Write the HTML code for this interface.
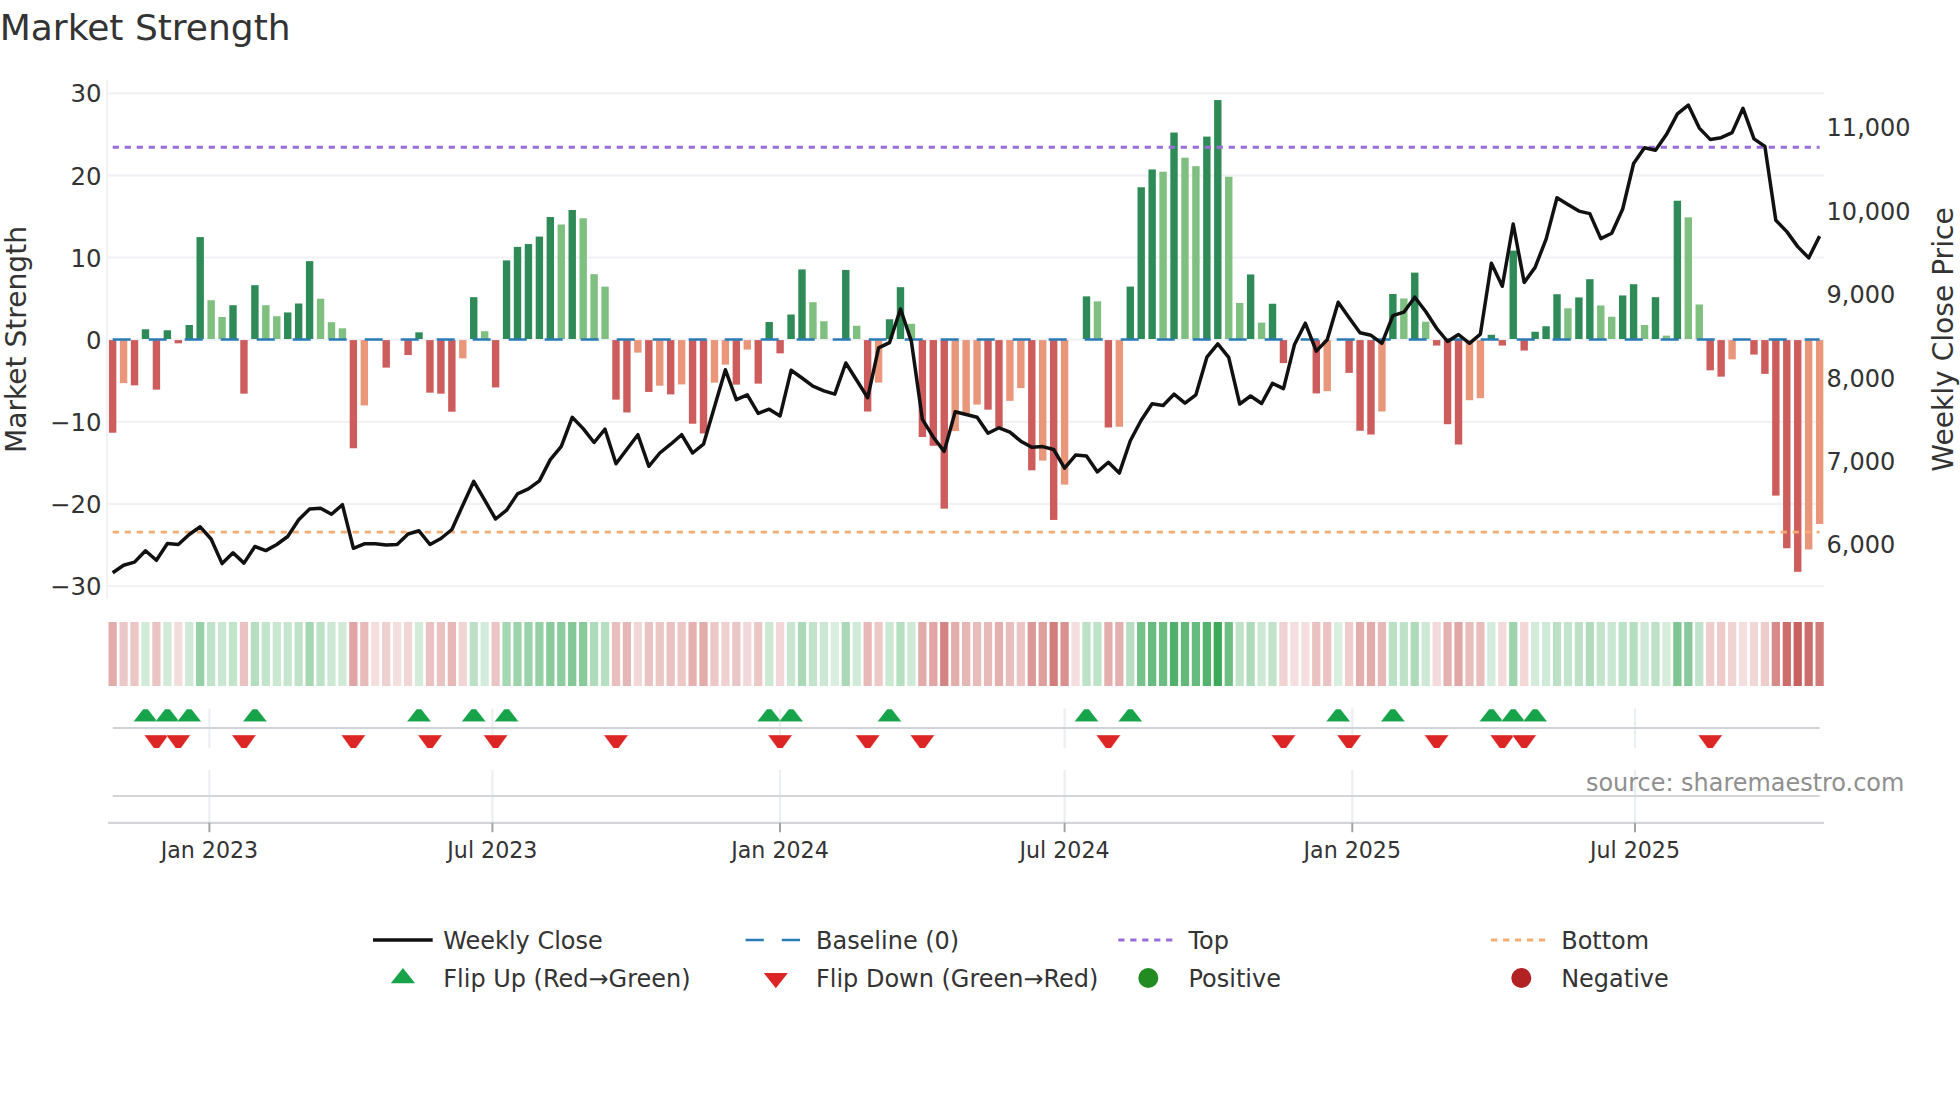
<!DOCTYPE html>
<html lang="en">
<head>
<meta charset="utf-8">
<title>Market Strength</title>
<style>
html,body{margin:0;padding:0;background:#ffffff;}
body{width:1960px;height:1102px;overflow:hidden;}
svg{display:block;font-family:'DejaVu Sans','Liberation Sans',sans-serif;}
</style>
</head>
<body>
<svg width="1960" height="1102" viewBox="0 0 1960 1102">
<rect width="1960" height="1102" fill="#ffffff"/>
<g stroke="#f1f2f5" stroke-width="2.2">
<line x1="108.0" x2="1824.0" y1="93.3" y2="93.3"/>
<line x1="108.0" x2="1824.0" y1="175.4" y2="175.4"/>
<line x1="108.0" x2="1824.0" y1="257.5" y2="257.5"/>
<line x1="108.0" x2="1824.0" y1="339.6" y2="339.6"/>
<line x1="108.0" x2="1824.0" y1="421.8" y2="421.8"/>
<line x1="108.0" x2="1824.0" y1="503.9" y2="503.9"/>
<line x1="108.0" x2="1824.0" y1="586.0" y2="586.0"/>
</g>
<line x1="107" x2="107" y1="80.0" y2="599.0" stroke="#f2f2f5" stroke-width="2"/>
<clipPath id="cp"><rect x="108.0" y="80.0" width="1716.0" height="519.0"/></clipPath>
<g clip-path="url(#cp)">
<rect x="108.95" y="340.10" width="7.4" height="92.63" fill="#cd5c5c"/>
<rect x="119.89" y="340.10" width="7.4" height="43.04" fill="#e9967a"/>
<rect x="130.83" y="340.10" width="7.4" height="45.26" fill="#cd5c5c"/>
<rect x="141.78" y="329.28" width="7.4" height="9.72" fill="#2e8b57"/>
<rect x="152.72" y="340.10" width="7.4" height="49.53" fill="#cd5c5c"/>
<rect x="163.66" y="330.27" width="7.4" height="8.73" fill="#2e8b57"/>
<rect x="174.60" y="340.10" width="7.4" height="3.22" fill="#cd5c5c"/>
<rect x="185.54" y="325.01" width="7.4" height="13.99" fill="#2e8b57"/>
<rect x="196.49" y="237.09" width="7.4" height="101.91" fill="#2e8b57"/>
<rect x="207.43" y="300.22" width="7.4" height="38.78" fill="#7fbf7f"/>
<rect x="218.37" y="316.97" width="7.4" height="22.03" fill="#7fbf7f"/>
<rect x="229.31" y="305.23" width="7.4" height="33.77" fill="#2e8b57"/>
<rect x="240.26" y="340.10" width="7.4" height="53.55" fill="#cd5c5c"/>
<rect x="251.20" y="285.20" width="7.4" height="53.80" fill="#2e8b57"/>
<rect x="262.14" y="305.23" width="7.4" height="33.77" fill="#7fbf7f"/>
<rect x="273.08" y="316.23" width="7.4" height="22.77" fill="#7fbf7f"/>
<rect x="284.02" y="312.45" width="7.4" height="26.55" fill="#2e8b57"/>
<rect x="294.97" y="303.50" width="7.4" height="35.50" fill="#2e8b57"/>
<rect x="305.91" y="261.14" width="7.4" height="77.86" fill="#2e8b57"/>
<rect x="316.85" y="298.74" width="7.4" height="40.26" fill="#7fbf7f"/>
<rect x="327.79" y="322.22" width="7.4" height="16.78" fill="#7fbf7f"/>
<rect x="338.73" y="328.30" width="7.4" height="10.70" fill="#7fbf7f"/>
<rect x="349.68" y="340.10" width="7.4" height="108.15" fill="#cd5c5c"/>
<rect x="360.62" y="340.10" width="7.4" height="65.37" fill="#e9967a"/>
<rect x="382.50" y="340.10" width="7.4" height="27.52" fill="#cd5c5c"/>
<rect x="404.39" y="340.10" width="7.4" height="14.96" fill="#cd5c5c"/>
<rect x="415.33" y="332.32" width="7.4" height="6.68" fill="#2e8b57"/>
<rect x="426.27" y="340.10" width="7.4" height="52.56" fill="#cd5c5c"/>
<rect x="437.21" y="340.10" width="7.4" height="53.55" fill="#cd5c5c"/>
<rect x="448.16" y="340.10" width="7.4" height="71.61" fill="#cd5c5c"/>
<rect x="459.10" y="340.10" width="7.4" height="18.25" fill="#e9967a"/>
<rect x="470.04" y="297.18" width="7.4" height="41.82" fill="#2e8b57"/>
<rect x="480.98" y="331.25" width="7.4" height="7.75" fill="#7fbf7f"/>
<rect x="491.92" y="340.10" width="7.4" height="47.31" fill="#cd5c5c"/>
<rect x="502.87" y="260.40" width="7.4" height="78.60" fill="#2e8b57"/>
<rect x="513.81" y="246.86" width="7.4" height="92.14" fill="#2e8b57"/>
<rect x="524.75" y="244.06" width="7.4" height="94.94" fill="#2e8b57"/>
<rect x="535.69" y="236.59" width="7.4" height="102.41" fill="#2e8b57"/>
<rect x="546.63" y="217.05" width="7.4" height="121.95" fill="#2e8b57"/>
<rect x="557.58" y="224.52" width="7.4" height="114.48" fill="#7fbf7f"/>
<rect x="568.52" y="209.99" width="7.4" height="129.01" fill="#2e8b57"/>
<rect x="579.46" y="218.28" width="7.4" height="120.72" fill="#7fbf7f"/>
<rect x="590.40" y="274.19" width="7.4" height="64.81" fill="#7fbf7f"/>
<rect x="601.34" y="286.67" width="7.4" height="52.33" fill="#7fbf7f"/>
<rect x="612.29" y="340.10" width="7.4" height="59.54" fill="#cd5c5c"/>
<rect x="623.23" y="340.10" width="7.4" height="72.35" fill="#cd5c5c"/>
<rect x="634.17" y="340.10" width="7.4" height="12.50" fill="#e9967a"/>
<rect x="645.11" y="340.10" width="7.4" height="51.83" fill="#cd5c5c"/>
<rect x="656.05" y="340.10" width="7.4" height="45.59" fill="#e9967a"/>
<rect x="667.00" y="340.10" width="7.4" height="54.29" fill="#cd5c5c"/>
<rect x="677.94" y="340.10" width="7.4" height="44.27" fill="#e9967a"/>
<rect x="688.88" y="340.10" width="7.4" height="83.60" fill="#cd5c5c"/>
<rect x="699.82" y="340.10" width="7.4" height="93.37" fill="#cd5c5c"/>
<rect x="710.77" y="340.10" width="7.4" height="42.55" fill="#e9967a"/>
<rect x="721.71" y="340.10" width="7.4" height="24.49" fill="#e9967a"/>
<rect x="732.65" y="340.10" width="7.4" height="44.52" fill="#cd5c5c"/>
<rect x="743.59" y="340.10" width="7.4" height="9.46" fill="#e9967a"/>
<rect x="754.53" y="340.10" width="7.4" height="43.53" fill="#cd5c5c"/>
<rect x="765.48" y="321.98" width="7.4" height="17.02" fill="#2e8b57"/>
<rect x="776.42" y="340.10" width="7.4" height="13.24" fill="#cd5c5c"/>
<rect x="787.36" y="314.51" width="7.4" height="24.49" fill="#2e8b57"/>
<rect x="798.30" y="269.43" width="7.4" height="69.57" fill="#2e8b57"/>
<rect x="809.24" y="302.19" width="7.4" height="36.81" fill="#7fbf7f"/>
<rect x="820.19" y="321.24" width="7.4" height="17.76" fill="#7fbf7f"/>
<rect x="842.07" y="269.93" width="7.4" height="69.07" fill="#2e8b57"/>
<rect x="853.01" y="325.75" width="7.4" height="13.25" fill="#7fbf7f"/>
<rect x="863.95" y="340.10" width="7.4" height="71.45" fill="#cd5c5c"/>
<rect x="874.90" y="340.10" width="7.4" height="42.47" fill="#e9967a"/>
<rect x="885.84" y="319.27" width="7.4" height="19.73" fill="#2e8b57"/>
<rect x="896.78" y="287.17" width="7.4" height="51.83" fill="#2e8b57"/>
<rect x="907.72" y="323.78" width="7.4" height="15.22" fill="#7fbf7f"/>
<rect x="918.67" y="340.10" width="7.4" height="96.90" fill="#cd5c5c"/>
<rect x="929.61" y="340.10" width="7.4" height="105.68" fill="#cd5c5c"/>
<rect x="940.55" y="340.10" width="7.4" height="168.57" fill="#cd5c5c"/>
<rect x="951.49" y="340.10" width="7.4" height="90.99" fill="#e9967a"/>
<rect x="962.43" y="340.10" width="7.4" height="74.73" fill="#e9967a"/>
<rect x="973.38" y="340.10" width="7.4" height="64.47" fill="#e9967a"/>
<rect x="984.32" y="340.10" width="7.4" height="69.56" fill="#cd5c5c"/>
<rect x="995.26" y="340.10" width="7.4" height="87.05" fill="#cd5c5c"/>
<rect x="1006.20" y="340.10" width="7.4" height="60.77" fill="#e9967a"/>
<rect x="1017.14" y="340.10" width="7.4" height="48.05" fill="#e9967a"/>
<rect x="1028.09" y="340.10" width="7.4" height="130.23" fill="#cd5c5c"/>
<rect x="1039.03" y="340.10" width="7.4" height="120.46" fill="#e9967a"/>
<rect x="1049.97" y="340.10" width="7.4" height="179.82" fill="#cd5c5c"/>
<rect x="1060.91" y="340.10" width="7.4" height="144.52" fill="#e9967a"/>
<rect x="1082.80" y="296.36" width="7.4" height="42.64" fill="#2e8b57"/>
<rect x="1093.74" y="301.37" width="7.4" height="37.63" fill="#7fbf7f"/>
<rect x="1104.68" y="340.10" width="7.4" height="87.38" fill="#cd5c5c"/>
<rect x="1115.62" y="340.10" width="7.4" height="86.64" fill="#e9967a"/>
<rect x="1126.57" y="286.59" width="7.4" height="52.41" fill="#2e8b57"/>
<rect x="1137.51" y="187.25" width="7.4" height="151.75" fill="#2e8b57"/>
<rect x="1148.45" y="169.44" width="7.4" height="169.56" fill="#2e8b57"/>
<rect x="1159.39" y="171.73" width="7.4" height="167.27" fill="#7fbf7f"/>
<rect x="1170.33" y="132.57" width="7.4" height="206.43" fill="#2e8b57"/>
<rect x="1181.28" y="157.69" width="7.4" height="181.31" fill="#7fbf7f"/>
<rect x="1192.22" y="166.15" width="7.4" height="172.85" fill="#7fbf7f"/>
<rect x="1203.16" y="136.60" width="7.4" height="202.40" fill="#2e8b57"/>
<rect x="1214.10" y="100.06" width="7.4" height="238.94" fill="#2e8b57"/>
<rect x="1225.04" y="176.74" width="7.4" height="162.26" fill="#7fbf7f"/>
<rect x="1235.99" y="303.01" width="7.4" height="35.99" fill="#7fbf7f"/>
<rect x="1246.93" y="274.44" width="7.4" height="64.56" fill="#2e8b57"/>
<rect x="1257.87" y="322.63" width="7.4" height="16.37" fill="#7fbf7f"/>
<rect x="1268.81" y="303.75" width="7.4" height="35.25" fill="#2e8b57"/>
<rect x="1279.75" y="340.10" width="7.4" height="23.01" fill="#cd5c5c"/>
<rect x="1312.58" y="340.10" width="7.4" height="53.30" fill="#cd5c5c"/>
<rect x="1323.52" y="340.10" width="7.4" height="51.09" fill="#e9967a"/>
<rect x="1345.41" y="340.10" width="7.4" height="32.78" fill="#cd5c5c"/>
<rect x="1356.35" y="340.10" width="7.4" height="90.66" fill="#cd5c5c"/>
<rect x="1367.29" y="340.10" width="7.4" height="94.44" fill="#cd5c5c"/>
<rect x="1378.23" y="340.10" width="7.4" height="71.37" fill="#e9967a"/>
<rect x="1389.18" y="293.98" width="7.4" height="45.02" fill="#2e8b57"/>
<rect x="1400.12" y="298.50" width="7.4" height="40.50" fill="#7fbf7f"/>
<rect x="1411.06" y="272.63" width="7.4" height="66.37" fill="#2e8b57"/>
<rect x="1422.00" y="321.73" width="7.4" height="17.27" fill="#7fbf7f"/>
<rect x="1432.94" y="340.10" width="7.4" height="5.44" fill="#cd5c5c"/>
<rect x="1443.89" y="340.10" width="7.4" height="84.09" fill="#cd5c5c"/>
<rect x="1454.83" y="340.10" width="7.4" height="104.45" fill="#cd5c5c"/>
<rect x="1465.77" y="340.10" width="7.4" height="60.12" fill="#e9967a"/>
<rect x="1476.71" y="340.10" width="7.4" height="58.07" fill="#e9967a"/>
<rect x="1487.65" y="334.78" width="7.4" height="4.22" fill="#2e8b57"/>
<rect x="1498.60" y="340.10" width="7.4" height="5.44" fill="#cd5c5c"/>
<rect x="1509.54" y="250.63" width="7.4" height="88.37" fill="#2e8b57"/>
<rect x="1520.48" y="340.10" width="7.4" height="10.45" fill="#cd5c5c"/>
<rect x="1531.42" y="331.75" width="7.4" height="7.25" fill="#2e8b57"/>
<rect x="1542.37" y="326.25" width="7.4" height="12.75" fill="#2e8b57"/>
<rect x="1553.31" y="294.23" width="7.4" height="44.77" fill="#2e8b57"/>
<rect x="1564.25" y="308.27" width="7.4" height="30.73" fill="#7fbf7f"/>
<rect x="1575.19" y="297.43" width="7.4" height="41.57" fill="#2e8b57"/>
<rect x="1586.13" y="279.20" width="7.4" height="59.80" fill="#2e8b57"/>
<rect x="1597.08" y="305.47" width="7.4" height="33.53" fill="#7fbf7f"/>
<rect x="1608.02" y="316.72" width="7.4" height="22.28" fill="#7fbf7f"/>
<rect x="1618.96" y="295.46" width="7.4" height="43.54" fill="#2e8b57"/>
<rect x="1629.90" y="284.21" width="7.4" height="54.79" fill="#2e8b57"/>
<rect x="1640.84" y="325.01" width="7.4" height="13.99" fill="#7fbf7f"/>
<rect x="1651.79" y="297.18" width="7.4" height="41.82" fill="#2e8b57"/>
<rect x="1662.73" y="335.61" width="7.4" height="3.39" fill="#7fbf7f"/>
<rect x="1673.67" y="200.72" width="7.4" height="138.28" fill="#2e8b57"/>
<rect x="1684.61" y="217.30" width="7.4" height="121.70" fill="#7fbf7f"/>
<rect x="1695.55" y="304.49" width="7.4" height="34.51" fill="#7fbf7f"/>
<rect x="1706.50" y="340.10" width="7.4" height="30.23" fill="#cd5c5c"/>
<rect x="1717.44" y="340.10" width="7.4" height="36.56" fill="#cd5c5c"/>
<rect x="1728.38" y="340.10" width="7.4" height="19.23" fill="#e9967a"/>
<rect x="1750.27" y="340.10" width="7.4" height="14.47" fill="#cd5c5c"/>
<rect x="1761.21" y="340.10" width="7.4" height="33.76" fill="#cd5c5c"/>
<rect x="1772.15" y="340.10" width="7.4" height="155.52" fill="#cd5c5c"/>
<rect x="1783.09" y="340.10" width="7.4" height="208.14" fill="#cd5c5c"/>
<rect x="1794.03" y="340.10" width="7.4" height="231.71" fill="#cd5c5c"/>
<rect x="1804.98" y="340.10" width="7.4" height="209.38" fill="#e9967a"/>
<rect x="1815.92" y="340.10" width="7.4" height="183.84" fill="#e9967a"/>
</g>
<line x1="112.7" x2="1819.6" y1="147.2" y2="147.2" stroke="#9a6ddc" stroke-width="2.9" stroke-dasharray="6.2 5.8"/>
<line x1="112.7" x2="1819.6" y1="532.1" y2="532.1" stroke="#f3ac72" stroke-width="2.9" stroke-dasharray="6.2 5.8"/>
<line x1="112.7" x2="1819.6" y1="339.5" y2="339.5" stroke="#2b7bb6" stroke-width="2.6" stroke-dasharray="18 18"/>
<polyline points="112.7,572.8 123.6,565.3 134.5,562.1 145.5,550.8 156.4,560.3 167.4,543.5 178.3,544.5 189.2,534.5 200.2,526.8 211.1,539.0 222.1,563.6 233.0,552.8 244.0,563.1 254.9,546.5 265.8,550.6 276.8,544.5 287.7,536.5 298.7,519.7 309.6,509.0 320.5,508.2 331.5,514.2 342.4,504.7 353.4,548.3 364.3,543.8 375.3,543.8 386.2,545.0 397.1,544.5 408.1,534.0 419.0,530.8 430.0,544.5 440.9,538.5 451.9,529.5 462.8,505.2 473.7,481.4 484.7,500.2 495.6,519.0 506.6,510.2 517.5,493.9 528.4,488.9 539.4,480.9 550.3,459.6 561.3,446.3 572.2,417.3 583.2,428.6 594.1,442.5 605.0,429.2 616.0,463.8 626.9,449.2 637.9,434.7 648.8,466.3 659.8,453.0 670.7,444.2 681.6,434.7 692.6,453.0 703.5,444.2 714.5,406.7 725.4,369.8 736.3,399.6 747.3,394.9 758.2,413.4 769.2,409.2 780.1,415.9 791.1,370.3 802.0,378.0 812.9,386.2 823.9,390.9 834.8,394.1 845.8,363.0 856.7,380.2 867.7,397.7 878.6,347.9 889.5,342.6 900.5,309.0 911.4,341.4 922.4,419.4 933.3,437.2 944.2,451.4 955.2,411.8 966.1,414.5 977.1,417.3 988.0,433.3 999.0,427.8 1009.9,432.2 1020.8,441.2 1031.8,447.3 1042.7,446.6 1053.7,449.5 1064.6,468.2 1075.6,455.1 1086.5,456.0 1097.4,471.9 1108.4,462.3 1119.3,473.1 1130.3,440.7 1141.2,420.3 1152.1,403.8 1163.1,405.5 1174.0,394.2 1185.0,403.2 1195.9,394.8 1206.9,357.2 1217.8,343.9 1228.7,357.4 1239.7,404.0 1250.6,396.0 1261.6,403.5 1272.5,383.3 1283.5,388.6 1294.4,344.8 1305.3,323.2 1316.3,351.1 1327.2,339.8 1338.2,302.2 1349.1,317.7 1360.0,332.8 1371.0,335.3 1381.9,343.3 1392.9,315.7 1403.8,312.2 1414.8,297.2 1425.7,311.5 1436.6,328.3 1447.6,341.5 1458.5,334.5 1469.5,343.3 1480.4,334.1 1491.4,263.2 1502.3,286.3 1513.2,224.0 1524.2,282.4 1535.1,267.4 1546.1,239.1 1557.0,197.8 1567.9,204.5 1578.9,211.1 1589.8,213.6 1600.8,238.6 1611.7,233.3 1622.7,209.0 1633.6,163.5 1644.5,147.7 1655.5,150.2 1666.4,134.6 1677.4,113.9 1688.3,105.1 1699.3,128.1 1710.2,139.4 1721.1,137.7 1732.1,132.6 1743.0,108.3 1754.0,138.9 1764.9,146.4 1775.8,220.3 1786.8,231.6 1797.7,246.6 1808.7,257.9 1819.6,236.1" fill="none" stroke="#111111" stroke-width="3.5" stroke-linejoin="round" stroke-linecap="butt"/>
<clipPath id="cs"><rect x="108.0" y="622" width="1716.0" height="64"/></clipPath>
<g clip-path="url(#cs)">
<rect x="108.53" y="622" width="8.25" height="64" fill="#e2acab"/>
<rect x="119.47" y="622" width="8.25" height="64" fill="#ecc7c7"/>
<rect x="130.41" y="622" width="8.25" height="64" fill="#ebc6c5"/>
<rect x="141.35" y="622" width="8.25" height="64" fill="#d1ebd8"/>
<rect x="152.29" y="622" width="8.25" height="64" fill="#eac4c3"/>
<rect x="163.24" y="622" width="8.25" height="64" fill="#d2ebd9"/>
<rect x="174.18" y="622" width="8.25" height="64" fill="#f3dddc"/>
<rect x="185.12" y="622" width="8.25" height="64" fill="#cfe9d6"/>
<rect x="196.06" y="622" width="8.25" height="64" fill="#95d0a6"/>
<rect x="207.00" y="622" width="8.25" height="64" fill="#bfe2c8"/>
<rect x="217.95" y="622" width="8.25" height="64" fill="#c9e7d2"/>
<rect x="228.89" y="622" width="8.25" height="64" fill="#c2e4cb"/>
<rect x="239.83" y="622" width="8.25" height="64" fill="#eac2c1"/>
<rect x="250.77" y="622" width="8.25" height="64" fill="#b5dec0"/>
<rect x="261.71" y="622" width="8.25" height="64" fill="#c2e4cb"/>
<rect x="272.66" y="622" width="8.25" height="64" fill="#c9e7d1"/>
<rect x="283.60" y="622" width="8.25" height="64" fill="#c6e6cf"/>
<rect x="294.54" y="622" width="8.25" height="64" fill="#c1e3ca"/>
<rect x="305.48" y="622" width="8.25" height="64" fill="#a5d7b3"/>
<rect x="316.42" y="622" width="8.25" height="64" fill="#bee2c8"/>
<rect x="327.37" y="622" width="8.25" height="64" fill="#cde9d5"/>
<rect x="338.31" y="622" width="8.25" height="64" fill="#d1ead8"/>
<rect x="349.25" y="622" width="8.25" height="64" fill="#dfa4a3"/>
<rect x="360.19" y="622" width="8.25" height="64" fill="#e7bbba"/>
<rect x="371.14" y="622" width="8.25" height="64" fill="#f4dfde"/>
<rect x="382.08" y="622" width="8.25" height="64" fill="#eed0cf"/>
<rect x="393.02" y="622" width="8.25" height="64" fill="#f4dfde"/>
<rect x="403.96" y="622" width="8.25" height="64" fill="#f1d6d6"/>
<rect x="414.90" y="622" width="8.25" height="64" fill="#d3ecda"/>
<rect x="425.85" y="622" width="8.25" height="64" fill="#eac2c1"/>
<rect x="436.79" y="622" width="8.25" height="64" fill="#eac2c1"/>
<rect x="447.73" y="622" width="8.25" height="64" fill="#e6b8b7"/>
<rect x="458.67" y="622" width="8.25" height="64" fill="#f0d5d4"/>
<rect x="469.61" y="622" width="8.25" height="64" fill="#bde1c7"/>
<rect x="480.56" y="622" width="8.25" height="64" fill="#d3ebda"/>
<rect x="491.50" y="622" width="8.25" height="64" fill="#ebc5c4"/>
<rect x="502.44" y="622" width="8.25" height="64" fill="#a5d7b2"/>
<rect x="513.38" y="622" width="8.25" height="64" fill="#9cd3ab"/>
<rect x="524.32" y="622" width="8.25" height="64" fill="#9ad2a9"/>
<rect x="535.27" y="622" width="8.25" height="64" fill="#95d0a5"/>
<rect x="546.21" y="622" width="8.25" height="64" fill="#88ca9b"/>
<rect x="557.15" y="622" width="8.25" height="64" fill="#8dcc9f"/>
<rect x="568.09" y="622" width="8.25" height="64" fill="#84c897"/>
<rect x="579.04" y="622" width="8.25" height="64" fill="#89ca9b"/>
<rect x="589.98" y="622" width="8.25" height="64" fill="#aedbba"/>
<rect x="600.92" y="622" width="8.25" height="64" fill="#b6dec1"/>
<rect x="611.86" y="622" width="8.25" height="64" fill="#e9bebe"/>
<rect x="622.80" y="622" width="8.25" height="64" fill="#e6b7b7"/>
<rect x="633.75" y="622" width="8.25" height="64" fill="#f1d8d7"/>
<rect x="644.69" y="622" width="8.25" height="64" fill="#eac2c2"/>
<rect x="655.63" y="622" width="8.25" height="64" fill="#ebc6c5"/>
<rect x="666.57" y="622" width="8.25" height="64" fill="#e9c1c0"/>
<rect x="677.51" y="622" width="8.25" height="64" fill="#ebc7c6"/>
<rect x="688.46" y="622" width="8.25" height="64" fill="#e4b1b0"/>
<rect x="699.40" y="622" width="8.25" height="64" fill="#e2acab"/>
<rect x="710.34" y="622" width="8.25" height="64" fill="#ecc7c7"/>
<rect x="721.28" y="622" width="8.25" height="64" fill="#efd1d1"/>
<rect x="732.22" y="622" width="8.25" height="64" fill="#ebc6c6"/>
<rect x="743.17" y="622" width="8.25" height="64" fill="#f2d9d9"/>
<rect x="754.11" y="622" width="8.25" height="64" fill="#ebc7c6"/>
<rect x="765.05" y="622" width="8.25" height="64" fill="#cde9d4"/>
<rect x="775.99" y="622" width="8.25" height="64" fill="#f1d7d7"/>
<rect x="786.94" y="622" width="8.25" height="64" fill="#c8e6d0"/>
<rect x="797.88" y="622" width="8.25" height="64" fill="#aad9b7"/>
<rect x="808.82" y="622" width="8.25" height="64" fill="#c0e3ca"/>
<rect x="819.76" y="622" width="8.25" height="64" fill="#cce8d4"/>
<rect x="830.70" y="622" width="8.25" height="64" fill="#d8eede"/>
<rect x="841.65" y="622" width="8.25" height="64" fill="#abd9b8"/>
<rect x="852.59" y="622" width="8.25" height="64" fill="#cfead7"/>
<rect x="863.53" y="622" width="8.25" height="64" fill="#e6b8b7"/>
<rect x="874.47" y="622" width="8.25" height="64" fill="#ecc8c7"/>
<rect x="885.41" y="622" width="8.25" height="64" fill="#cbe8d3"/>
<rect x="896.36" y="622" width="8.25" height="64" fill="#b6dec1"/>
<rect x="907.30" y="622" width="8.25" height="64" fill="#cee9d5"/>
<rect x="918.24" y="622" width="8.25" height="64" fill="#e2aaa9"/>
<rect x="929.18" y="622" width="8.25" height="64" fill="#e0a5a4"/>
<rect x="940.12" y="622" width="8.25" height="64" fill="#d48482"/>
<rect x="951.07" y="622" width="8.25" height="64" fill="#e3adac"/>
<rect x="962.01" y="622" width="8.25" height="64" fill="#e6b6b5"/>
<rect x="972.95" y="622" width="8.25" height="64" fill="#e8bcbb"/>
<rect x="983.89" y="622" width="8.25" height="64" fill="#e7b9b8"/>
<rect x="994.84" y="622" width="8.25" height="64" fill="#e3b0af"/>
<rect x="1005.78" y="622" width="8.25" height="64" fill="#e8bebd"/>
<rect x="1016.72" y="622" width="8.25" height="64" fill="#ebc5c4"/>
<rect x="1027.66" y="622" width="8.25" height="64" fill="#db9897"/>
<rect x="1038.60" y="622" width="8.25" height="64" fill="#dd9e9c"/>
<rect x="1049.55" y="622" width="8.25" height="64" fill="#d27e7c"/>
<rect x="1060.49" y="622" width="8.25" height="64" fill="#d9918f"/>
<rect x="1071.43" y="622" width="8.25" height="64" fill="#f4dfde"/>
<rect x="1082.37" y="622" width="8.25" height="64" fill="#bce1c6"/>
<rect x="1093.31" y="622" width="8.25" height="64" fill="#bfe3c9"/>
<rect x="1104.26" y="622" width="8.25" height="64" fill="#e3afae"/>
<rect x="1115.20" y="622" width="8.25" height="64" fill="#e3b0af"/>
<rect x="1126.14" y="622" width="8.25" height="64" fill="#b6dec1"/>
<rect x="1137.08" y="622" width="8.25" height="64" fill="#75c18a"/>
<rect x="1148.02" y="622" width="8.25" height="64" fill="#69bc80"/>
<rect x="1158.97" y="622" width="8.25" height="64" fill="#6bbd82"/>
<rect x="1169.91" y="622" width="8.25" height="64" fill="#51b16c"/>
<rect x="1180.85" y="622" width="8.25" height="64" fill="#62b97a"/>
<rect x="1191.79" y="622" width="8.25" height="64" fill="#67bb7e"/>
<rect x="1202.74" y="622" width="8.25" height="64" fill="#54b36e"/>
<rect x="1213.68" y="622" width="8.25" height="64" fill="#3ca85a"/>
<rect x="1224.62" y="622" width="8.25" height="64" fill="#6ebe84"/>
<rect x="1235.56" y="622" width="8.25" height="64" fill="#c0e3ca"/>
<rect x="1246.50" y="622" width="8.25" height="64" fill="#aedbba"/>
<rect x="1257.45" y="622" width="8.25" height="64" fill="#cde9d5"/>
<rect x="1268.39" y="622" width="8.25" height="64" fill="#c1e3ca"/>
<rect x="1279.33" y="622" width="8.25" height="64" fill="#efd2d1"/>
<rect x="1290.27" y="622" width="8.25" height="64" fill="#f4dfde"/>
<rect x="1301.21" y="622" width="8.25" height="64" fill="#f4dfde"/>
<rect x="1312.16" y="622" width="8.25" height="64" fill="#eac2c1"/>
<rect x="1323.10" y="622" width="8.25" height="64" fill="#eac3c2"/>
<rect x="1334.04" y="622" width="8.25" height="64" fill="#d8eede"/>
<rect x="1344.98" y="622" width="8.25" height="64" fill="#eecdcc"/>
<rect x="1355.92" y="622" width="8.25" height="64" fill="#e3aead"/>
<rect x="1366.87" y="622" width="8.25" height="64" fill="#e2acaa"/>
<rect x="1377.81" y="622" width="8.25" height="64" fill="#e6b8b7"/>
<rect x="1388.75" y="622" width="8.25" height="64" fill="#bae0c5"/>
<rect x="1399.69" y="622" width="8.25" height="64" fill="#bde2c7"/>
<rect x="1410.63" y="622" width="8.25" height="64" fill="#addab9"/>
<rect x="1421.58" y="622" width="8.25" height="64" fill="#cde8d4"/>
<rect x="1432.52" y="622" width="8.25" height="64" fill="#f3dbdb"/>
<rect x="1443.46" y="622" width="8.25" height="64" fill="#e4b1b0"/>
<rect x="1454.40" y="622" width="8.25" height="64" fill="#e0a6a5"/>
<rect x="1465.35" y="622" width="8.25" height="64" fill="#e8bebd"/>
<rect x="1476.29" y="622" width="8.25" height="64" fill="#e9bfbe"/>
<rect x="1487.23" y="622" width="8.25" height="64" fill="#d5ecdc"/>
<rect x="1498.17" y="622" width="8.25" height="64" fill="#f3dbdb"/>
<rect x="1509.11" y="622" width="8.25" height="64" fill="#9ed4ad"/>
<rect x="1520.06" y="622" width="8.25" height="64" fill="#f2d9d8"/>
<rect x="1531.00" y="622" width="8.25" height="64" fill="#d3ebda"/>
<rect x="1541.94" y="622" width="8.25" height="64" fill="#cfead7"/>
<rect x="1552.88" y="622" width="8.25" height="64" fill="#bbe0c5"/>
<rect x="1563.82" y="622" width="8.25" height="64" fill="#c4e5cd"/>
<rect x="1574.77" y="622" width="8.25" height="64" fill="#bde1c7"/>
<rect x="1585.71" y="622" width="8.25" height="64" fill="#b1dcbd"/>
<rect x="1596.65" y="622" width="8.25" height="64" fill="#c2e4cb"/>
<rect x="1607.59" y="622" width="8.25" height="64" fill="#c9e7d2"/>
<rect x="1618.53" y="622" width="8.25" height="64" fill="#bbe1c6"/>
<rect x="1629.48" y="622" width="8.25" height="64" fill="#b4dec0"/>
<rect x="1640.42" y="622" width="8.25" height="64" fill="#cfe9d6"/>
<rect x="1651.36" y="622" width="8.25" height="64" fill="#bde1c7"/>
<rect x="1662.30" y="622" width="8.25" height="64" fill="#d6eddc"/>
<rect x="1673.25" y="622" width="8.25" height="64" fill="#7ec592"/>
<rect x="1684.19" y="622" width="8.25" height="64" fill="#88ca9b"/>
<rect x="1695.13" y="622" width="8.25" height="64" fill="#c1e3cb"/>
<rect x="1706.07" y="622" width="8.25" height="64" fill="#eececd"/>
<rect x="1717.01" y="622" width="8.25" height="64" fill="#edcbca"/>
<rect x="1727.96" y="622" width="8.25" height="64" fill="#f0d4d3"/>
<rect x="1738.90" y="622" width="8.25" height="64" fill="#f4dfde"/>
<rect x="1749.84" y="622" width="8.25" height="64" fill="#f1d7d6"/>
<rect x="1760.78" y="622" width="8.25" height="64" fill="#edcccc"/>
<rect x="1771.72" y="622" width="8.25" height="64" fill="#d78b89"/>
<rect x="1782.67" y="622" width="8.25" height="64" fill="#cd6e6d"/>
<rect x="1793.61" y="622" width="8.25" height="64" fill="#c86260"/>
<rect x="1804.55" y="622" width="8.25" height="64" fill="#cc6e6c"/>
<rect x="1815.49" y="622" width="8.25" height="64" fill="#d17b7a"/>
</g>
<g stroke="#eceef1" stroke-width="2.2">
<line x1="209.4" x2="209.4" y1="708.5" y2="748"/>
<line x1="209.4" x2="209.4" y1="770" y2="822"/>
<line x1="492.4" x2="492.4" y1="708.5" y2="748"/>
<line x1="492.4" x2="492.4" y1="770" y2="822"/>
<line x1="780.0" x2="780.0" y1="708.5" y2="748"/>
<line x1="780.0" x2="780.0" y1="770" y2="822"/>
<line x1="1064.6" x2="1064.6" y1="708.5" y2="748"/>
<line x1="1064.6" x2="1064.6" y1="770" y2="822"/>
<line x1="1352.3" x2="1352.3" y1="708.5" y2="748"/>
<line x1="1352.3" x2="1352.3" y1="770" y2="822"/>
<line x1="1635.0" x2="1635.0" y1="708.5" y2="748"/>
<line x1="1635.0" x2="1635.0" y1="770" y2="822"/>
</g>
<line x1="112.7" x2="1819.6" y1="728" y2="728" stroke="#cfd2d6" stroke-width="2.2"/>
<line x1="112.7" x2="1819.6" y1="796" y2="796" stroke="#d3d5d8" stroke-width="2.2"/>
<line x1="108.0" x2="1824.0" y1="822.8" y2="822.8" stroke="#d3d5d8" stroke-width="2.2"/>
<g stroke="#a3a3a3" stroke-width="2">
<line x1="209.4" x2="209.4" y1="822.8" y2="832.2"/>
<line x1="492.4" x2="492.4" y1="822.8" y2="832.2"/>
<line x1="780.0" x2="780.0" y1="822.8" y2="832.2"/>
<line x1="1064.6" x2="1064.6" y1="822.8" y2="832.2"/>
<line x1="1352.3" x2="1352.3" y1="822.8" y2="832.2"/>
<line x1="1635.0" x2="1635.0" y1="822.8" y2="832.2"/>
</g>
<clipPath id="cm"><rect x="100" y="709.3" width="1740" height="38.7"/></clipPath>
<g clip-path="url(#cm)" stroke="#ffffff" stroke-width="0.5">
<polygon points="133.2,721.7 157.8,721.7 145.5,706.0" fill="#16a34a"/>
<polygon points="155.1,721.7 179.7,721.7 167.4,706.0" fill="#16a34a"/>
<polygon points="176.9,721.7 201.5,721.7 189.2,706.0" fill="#16a34a"/>
<polygon points="242.6,721.7 267.2,721.7 254.9,706.0" fill="#16a34a"/>
<polygon points="406.7,721.7 431.3,721.7 419.0,706.0" fill="#16a34a"/>
<polygon points="461.4,721.7 486.0,721.7 473.7,706.0" fill="#16a34a"/>
<polygon points="494.3,721.7 518.9,721.7 506.6,706.0" fill="#16a34a"/>
<polygon points="756.9,721.7 781.5,721.7 769.2,706.0" fill="#16a34a"/>
<polygon points="778.8,721.7 803.4,721.7 791.1,706.0" fill="#16a34a"/>
<polygon points="877.2,721.7 901.8,721.7 889.5,706.0" fill="#16a34a"/>
<polygon points="1074.2,721.7 1098.8,721.7 1086.5,706.0" fill="#16a34a"/>
<polygon points="1118.0,721.7 1142.6,721.7 1130.3,706.0" fill="#16a34a"/>
<polygon points="1325.9,721.7 1350.5,721.7 1338.2,706.0" fill="#16a34a"/>
<polygon points="1380.6,721.7 1405.2,721.7 1392.9,706.0" fill="#16a34a"/>
<polygon points="1479.1,721.7 1503.7,721.7 1491.4,706.0" fill="#16a34a"/>
<polygon points="1500.9,721.7 1525.5,721.7 1513.2,706.0" fill="#16a34a"/>
<polygon points="1522.8,721.7 1547.4,721.7 1535.1,706.0" fill="#16a34a"/>
<polygon points="144.1,734.9 168.7,734.9 156.4,751.9" fill="#dc2626"/>
<polygon points="166.0,734.9 190.6,734.9 178.3,751.9" fill="#dc2626"/>
<polygon points="231.7,734.9 256.3,734.9 244.0,751.9" fill="#dc2626"/>
<polygon points="341.1,734.9 365.7,734.9 353.4,751.9" fill="#dc2626"/>
<polygon points="417.7,734.9 442.3,734.9 430.0,751.9" fill="#dc2626"/>
<polygon points="483.3,734.9 507.9,734.9 495.6,751.9" fill="#dc2626"/>
<polygon points="603.7,734.9 628.3,734.9 616.0,751.9" fill="#dc2626"/>
<polygon points="767.8,734.9 792.4,734.9 780.1,751.9" fill="#dc2626"/>
<polygon points="855.4,734.9 880.0,734.9 867.7,751.9" fill="#dc2626"/>
<polygon points="910.1,734.9 934.7,734.9 922.4,751.9" fill="#dc2626"/>
<polygon points="1096.1,734.9 1120.7,734.9 1108.4,751.9" fill="#dc2626"/>
<polygon points="1271.2,734.9 1295.8,734.9 1283.5,751.9" fill="#dc2626"/>
<polygon points="1336.8,734.9 1361.4,734.9 1349.1,751.9" fill="#dc2626"/>
<polygon points="1424.3,734.9 1448.9,734.9 1436.6,751.9" fill="#dc2626"/>
<polygon points="1490.0,734.9 1514.6,734.9 1502.3,751.9" fill="#dc2626"/>
<polygon points="1511.9,734.9 1536.5,734.9 1524.2,751.9" fill="#dc2626"/>
<polygon points="1697.9,734.9 1722.5,734.9 1710.2,751.9" fill="#dc2626"/>
</g>
<text x="-0.3" y="40.1" font-size="36.0" text-anchor="start" fill="#333333" >Market Strength</text>
<text x="101.5" y="102.44999999999996" font-size="24.4" text-anchor="end" fill="#333333" >30</text>
<text x="101.5" y="184.54999999999995" font-size="24.4" text-anchor="end" fill="#333333" >20</text>
<text x="101.5" y="266.65" font-size="24.4" text-anchor="end" fill="#333333" >10</text>
<text x="101.5" y="348.75" font-size="24.4" text-anchor="end" fill="#333333" >0</text>
<text x="101.5" y="430.85" font-size="24.4" text-anchor="end" fill="#333333" >−10</text>
<text x="101.5" y="512.95" font-size="24.4" text-anchor="end" fill="#333333" >−20</text>
<text x="101.5" y="595.0500000000001" font-size="24.4" text-anchor="end" fill="#333333" >−30</text>
<text x="1826.6" y="136.3" font-size="24.0" text-anchor="start" fill="#333333" >11,000</text>
<text x="1826.6" y="219.79999999999998" font-size="24.0" text-anchor="start" fill="#333333" >10,000</text>
<text x="1826.6" y="303.20000000000005" font-size="24.0" text-anchor="start" fill="#333333" >9,000</text>
<text x="1826.6" y="386.5" font-size="24.0" text-anchor="start" fill="#333333" >8,000</text>
<text x="1826.6" y="469.8" font-size="24.0" text-anchor="start" fill="#333333" >7,000</text>
<text x="1826.6" y="553.2" font-size="24.0" text-anchor="start" fill="#333333" >6,000</text>
<text transform="translate(25.5,339.5) rotate(-90)" font-size="28.1" text-anchor="middle" fill="#333333">Market Strength</text>
<text transform="translate(1953,339.5) rotate(-90)" font-size="28.1" text-anchor="middle" fill="#333333">Weekly Close Price</text>
<text x="209.4" y="858.2" font-size="22.15" text-anchor="middle" fill="#333333" >Jan 2023</text>
<text x="492.4" y="858.2" font-size="22.15" text-anchor="middle" fill="#333333" >Jul 2023</text>
<text x="780.0" y="858.2" font-size="22.15" text-anchor="middle" fill="#333333" >Jan 2024</text>
<text x="1064.6" y="858.2" font-size="22.15" text-anchor="middle" fill="#333333" >Jul 2024</text>
<text x="1352.3" y="858.2" font-size="22.15" text-anchor="middle" fill="#333333" >Jan 2025</text>
<text x="1635.0" y="858.2" font-size="22.15" text-anchor="middle" fill="#333333" >Jul 2025</text>
<text x="1904.3" y="791.2" font-size="23.95" text-anchor="end" fill="#8f8f8f" >source: sharemaestro.com</text>
<line x1="373" x2="432.7" y1="940" y2="940" stroke="#111111" stroke-width="3.4"/>
<text x="443.3" y="948.7" font-size="23.97" text-anchor="start" fill="#333333" >Weekly Close</text>
<line x1="745.6" x2="800" y1="940" y2="940" stroke="#2b7bb6" stroke-width="2.4" stroke-dasharray="18.2 18"/>
<text x="816.0" y="948.7" font-size="23.97" text-anchor="start" fill="#333333" >Baseline (0)</text>
<line x1="1118.3" x2="1172.6" y1="940" y2="940" stroke="#9a6ddc" stroke-width="3.1" stroke-dasharray="6.2 5.76"/>
<text x="1188.5" y="948.7" font-size="23.97" text-anchor="start" fill="#333333" >Top</text>
<line x1="1491.1" x2="1546" y1="940" y2="940" stroke="#f3ac72" stroke-width="3.1" stroke-dasharray="6.2 5.76"/>
<text x="1561.2" y="948.7" font-size="23.97" text-anchor="start" fill="#333333" >Bottom</text>
<polygon points="390.8,983.3 415.1,983.3 402.95,968" fill="#16a34a"/>
<text x="443.3" y="986.9" font-size="23.97" text-anchor="start" fill="#333333" >Flip Up (Red→Green)</text>
<polygon points="763.8,973 787.9,973 775.85,988.3" fill="#dc2626"/>
<text x="816.0" y="986.9" font-size="23.97" text-anchor="start" fill="#333333" >Flip Down (Green→Red)</text>
<circle cx="1148.3" cy="978" r="10" fill="#228b22"/>
<text x="1188.5" y="986.9" font-size="23.97" text-anchor="start" fill="#333333" >Positive</text>
<circle cx="1521.3" cy="978" r="10" fill="#b22222"/>
<text x="1561.2" y="986.9" font-size="23.97" text-anchor="start" fill="#333333" >Negative</text>
</svg>
</body>
</html>
